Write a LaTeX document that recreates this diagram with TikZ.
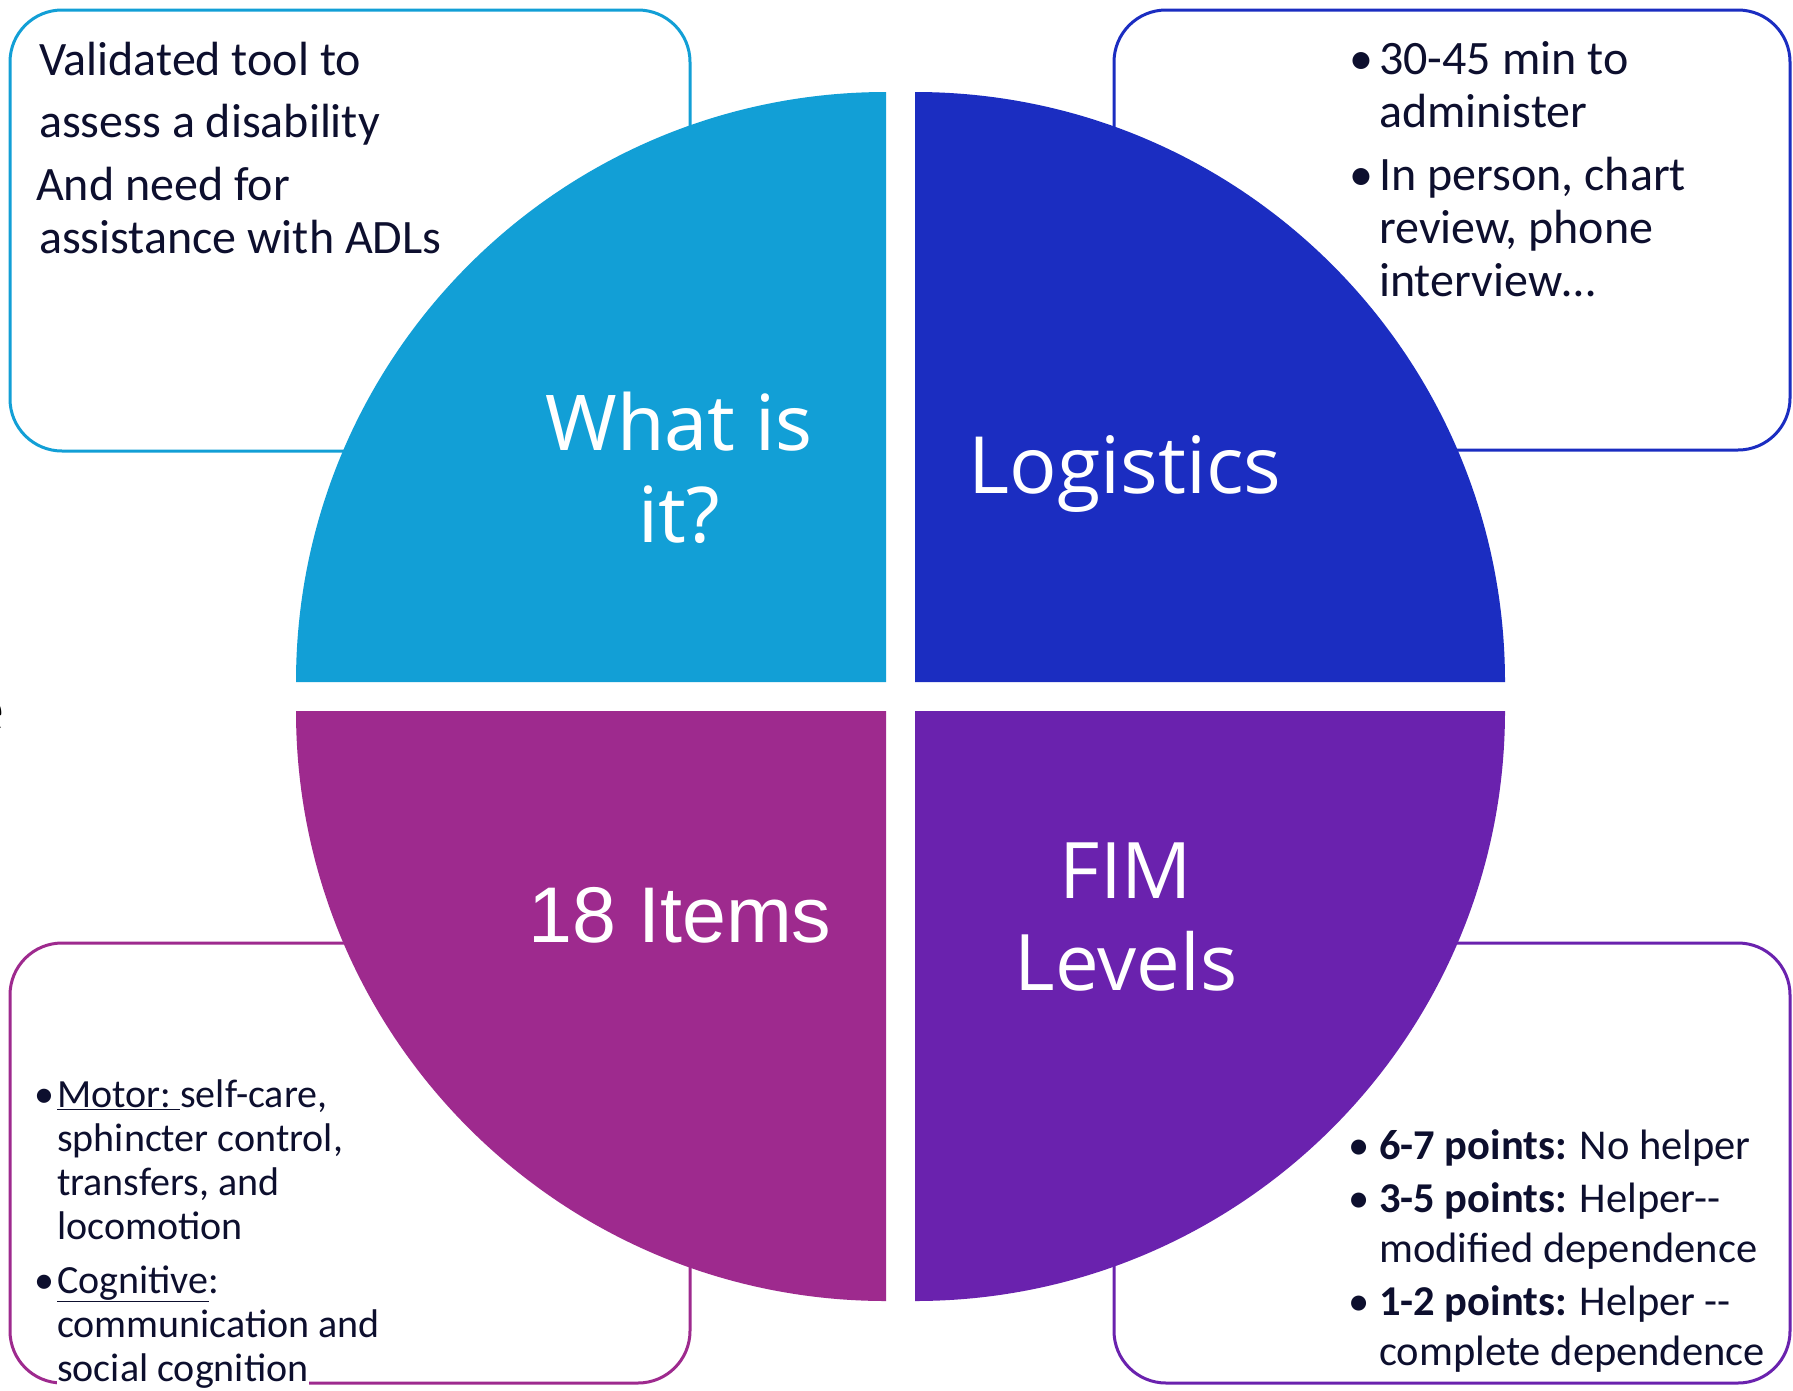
\documentclass[tikz,border=0pt]{standalone}
\usepackage{fontspec}
\setmainfont{Carlito}
\newfontfamily\fnoto{Noto Sans}
\newfontfamily\fopen{Open Sans}
\newfontfamily\flib{Liberation Sans}
\definecolor{cTL}{HTML}{129FD6}
\definecolor{cTR}{HTML}{1B2DC1}
\definecolor{cBL}{HTML}{9E2A8E}
\definecolor{cBR}{HTML}{6A22AE}
\definecolor{navy}{HTML}{0D0F2E}
\setlength{\fboxsep}{0pt}
\begin{document}
\begin{tikzpicture}[x=1pt,y=1pt,
  infobox/.style={line width=3pt, rounded corners=52pt, fill=white},
  txt/.style={anchor=base west, inner sep=0pt, align=left, text=navy},
  biglabel/.style={anchor=base, inner sep=0pt, align=center, text=white}]
\useasboundingbox[fill=white] (0,0) rectangle (1793,-1390);
% fragment at left edge
\node[anchor=base east, inner sep=0pt, font=\fontsize{70}{80}\selectfont, text=black] (frag) at (5,-732) {e};
% info boxes
\draw[infobox, draw=cTL] (10,-10) rectangle (690,-451);
\draw[infobox, draw=cTR] (1114,-10) rectangle (1790,-450);
\draw[infobox, draw=cBL] (10,-943) rectangle (690,-1383);
\draw[infobox, draw=cBR] (1114,-943) rectangle (1790,-1383);
% quadrants
\fill[cTL] (886,-682) -- ++(-590,0) arc[start angle=180, end angle=90, radius=590] -- cycle;
\fill[cTR] (915,-682) -- ++(0,590) arc[start angle=90, end angle=0, radius=590] -- cycle;
\fill[cBL] (886,-711) -- ++(-590,0) arc[start angle=180, end angle=270, radius=590] -- cycle;
\fill[cBR] (915,-711) -- ++(590,0) arc[start angle=0, end angle=-90, radius=590] -- cycle;
% big labels (anchor = baseline of last line)
\node[biglabel, font=\fnoto\fontsize{77}{92}\selectfont] (what) at (679,-542) {What is\\it?};
\node[biglabel, font=\fopen\fontsize{79}{92}\selectfont] (logi) at (1125,-493) {Logistics};
\node[biglabel, font=\flib\fontsize{79}{92}\selectfont] (items) at (680,-942) {18 Items};
\node[biglabel, font=\fopen\fontsize{78}{92}\selectfont] (fim) at (1126,-990) {FIM\\Levels};
% box texts (anchor = baseline of last line)
\node[txt, font=\fontsize{48}{53}\selectfont] (tlt) at (39,-253)
  {Validated tool to\\[9pt]assess a disability\\[10pt]\hspace*{-3pt}And need for\\assistance with ADLs};
\node[txt, font=\fontsize{48}{53}\selectfont] (trt) at (1349,-296)
  {\makebox[30pt][l]{•}30-45 min to\\\hspace*{30pt}administer\\[10pt]\makebox[30pt][l]{•}In person, chart\\\hspace*{30pt}review, phone\\\hspace*{30pt}interview…};
\node[txt, font=\fontsize{40}{44}\selectfont] (blt) at (34,-1381)
  {\makebox[23pt][l]{•}\underline{Motor:\ }self-care,\\\hspace*{23pt}sphincter control,\\\hspace*{23pt}transfers, and\\\hspace*{23pt}locomotion\\[10pt]\makebox[23pt][l]{•}\underline{Cognitive}:\\\hspace*{23pt}communication and\\\hspace*{23pt}\colorbox{white}{social cognition}};
\node[txt, font=\fontsize{42.5}{50}\selectfont] (brt) at (1348,-1365)
  {\makebox[31pt][l]{•}\textbf{6-7 points:} No helper\\[3pt]\makebox[31pt][l]{•}\textbf{3-5 points:} Helper-{}-\\\hspace*{31pt}modified dependence\\[3pt]\makebox[31pt][l]{•}\textbf{1-2 points:} Helper -{}-\\\hspace*{31pt}complete dependence};
\end{tikzpicture}
\end{document}
